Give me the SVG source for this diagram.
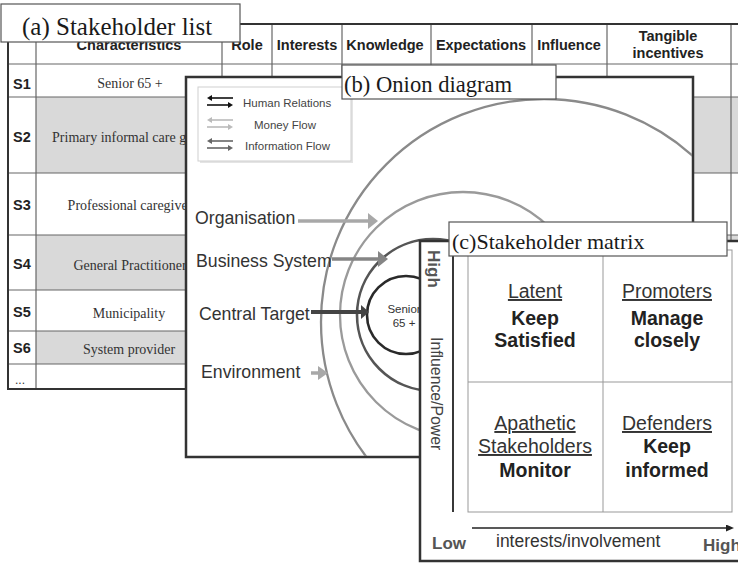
<svg xmlns="http://www.w3.org/2000/svg" width="738" height="563" viewBox="0 0 738 563">
<defs>
<style>
.hdr{font-family:"Liberation Sans",Arial,sans-serif;font-weight:bold;font-size:14.5px;fill:#222;text-anchor:middle}
.sid{font-family:"Liberation Sans",Arial,sans-serif;font-weight:bold;font-size:14.5px;fill:#222}
.cell{font-family:"Liberation Serif","Times New Roman",serif;font-size:14px;fill:#333;text-anchor:middle}
.gl{stroke:#666;stroke-width:1.2;fill:none}
.ol{stroke:#333;stroke-width:2;fill:none}
.shade{fill:#d9d9d9}
.frame{fill:#fff;stroke:#333;stroke-width:2.5}
.tbox{fill:#fff;stroke:#555;stroke-width:1.2}
.ttl{font-family:"Liberation Serif","Times New Roman",serif;fill:#1a1a1a}
.lbl{font-family:"Liberation Sans",Arial,sans-serif;font-size:17.7px;fill:#333}
.leg{font-family:"Liberation Sans",Arial,sans-serif;font-size:11.5px;fill:#444}
.ring{fill:none}
.quad{font-family:"Liberation Sans",Arial,sans-serif;font-size:19.5px;fill:#333;text-anchor:middle}
.u{text-decoration:underline}
.b{font-weight:bold;fill:#222}
.ax{font-family:"Liberation Sans",Arial,sans-serif}
.qg{stroke:#999;stroke-width:1;fill:none}
</style>
<clipPath id="onionClip"><rect x="187" y="78" width="505" height="378"/></clipPath>
<marker id="ahOrg" markerUnits="userSpaceOnUse" viewBox="0 0 10 16" markerWidth="10" markerHeight="16" refX="0" refY="8" orient="auto"><path d="M0,0L10,8L0,16z" fill="#a8a8a8"/></marker>
<marker id="ahBus" markerUnits="userSpaceOnUse" viewBox="0 0 10 16" markerWidth="10" markerHeight="16" refX="0" refY="8" orient="auto"><path d="M0,0L10,8L0,16z" fill="#858585"/></marker>
<marker id="ahCen" markerUnits="userSpaceOnUse" viewBox="0 0 8 14" markerWidth="8" markerHeight="14" refX="0" refY="7" orient="auto"><path d="M0,0L8,7L0,14z" fill="#444"/></marker>
<marker id="ahEnv" markerUnits="userSpaceOnUse" viewBox="0 0 10 14" markerWidth="10" markerHeight="14" refX="0" refY="7" orient="auto"><path d="M0,0L10,7L0,14z" fill="#a8a8a8"/></marker>
<marker id="lgB" markerUnits="userSpaceOnUse" viewBox="0 0 5 6" markerWidth="5" markerHeight="6" refX="0" refY="3" orient="auto"><path d="M0,0L5,3L0,6z" fill="#111"/></marker>
<marker id="lgL" markerUnits="userSpaceOnUse" viewBox="0 0 5 6" markerWidth="5" markerHeight="6" refX="0" refY="3" orient="auto"><path d="M0,0L5,3L0,6z" fill="#bbb"/></marker>
<marker id="lgD" markerUnits="userSpaceOnUse" viewBox="0 0 5 6" markerWidth="5" markerHeight="6" refX="0" refY="3" orient="auto"><path d="M0,0L5,3L0,6z" fill="#666"/></marker>
<marker id="axA" markerUnits="userSpaceOnUse" viewBox="0 0 8 7" markerWidth="8" markerHeight="7" refX="0" refY="3.5" orient="auto"><path d="M0,0L8,3.5L0,7z" fill="#222"/></marker>
</defs>
<rect width="738" height="563" fill="#fff"/>

<!-- (a) Stakeholder list -->
<g id="stakeholder-list">
<rect class="shade" x="36" y="97" width="702" height="76"/>
<rect class="shade" x="36" y="235" width="702" height="55"/>
<rect class="shade" x="36" y="331" width="702" height="33"/>
<g class="gl">
<line x1="8" y1="64" x2="738" y2="64"/>
<line x1="8" y1="97" x2="738" y2="97"/>
<line x1="8" y1="173" x2="738" y2="173"/>
<line x1="8" y1="235" x2="738" y2="235"/>
<line x1="8" y1="290" x2="738" y2="290"/>
<line x1="8" y1="331" x2="738" y2="331"/>
<line x1="8" y1="364" x2="738" y2="364"/>
<line x1="36" y1="24" x2="36" y2="389"/>
<line x1="222" y1="24" x2="222" y2="389"/>
<line x1="272" y1="24" x2="272" y2="389"/>
<line x1="342" y1="24" x2="342" y2="389"/>
<line x1="431" y1="24" x2="431" y2="389"/>
<line x1="532" y1="24" x2="532" y2="389"/>
<line x1="607" y1="24" x2="607" y2="389"/>
<line x1="731" y1="24" x2="731" y2="389"/>
</g>
<g class="ol">
<line x1="7" y1="24" x2="738" y2="24"/>
<line x1="8" y1="24" x2="8" y2="389"/>
<line x1="7" y1="389" x2="738" y2="389"/>
</g>
<text class="hdr" x="129" y="50">Characteristics</text>
<text class="hdr" x="247" y="50">Role</text>
<text class="hdr" x="307" y="50">Interests</text>
<text class="hdr" x="385" y="50">Knowledge</text>
<text class="hdr" x="481" y="50">Expectations</text>
<text class="hdr" x="569" y="50">Influence</text>
<text class="hdr" x="668" y="41">Tangible</text>
<text class="hdr" x="668" y="58">incentives</text>
<text class="sid" x="13" y="89">S1</text>
<text class="sid" x="13" y="142">S2</text>
<text class="sid" x="13" y="210">S3</text>
<text class="sid" x="13" y="269">S4</text>
<text class="sid" x="13" y="317">S5</text>
<text class="sid" x="13" y="353">S6</text>
<text x="15" y="384" style="font-family:'Liberation Sans',Arial,sans-serif;font-size:12px;fill:#333">...</text>
<text class="cell" x="130" y="88">Senior 65 +</text>
<text class="cell" x="130" y="142">Primary informal care giver</text>
<text class="cell" x="130" y="210">Professional caregiver</text>
<text class="cell" x="130" y="270">General Practitioner</text>
<text class="cell" x="129" y="318">Municipality</text>
<text class="cell" x="129" y="354">System provider</text>
</g>
<g id="title-a">
<rect class="tbox" x="1" y="4" width="239" height="38"/>
<text class="ttl" x="22" y="35" style="font-size:25px">(a) Stakeholder list</text>
</g>

<!-- (b) Onion diagram -->
<g id="onion-panel">
<rect class="frame" x="186" y="77" width="507" height="380"/>
<g clip-path="url(#onionClip)">
<circle class="ring" cx="544" cy="322" r="223" stroke="#8a8a8a" stroke-width="2.3"/>
<circle class="ring" cx="463" cy="315" r="123" stroke="#9a9a9a" stroke-width="2.3"/>
<circle class="ring" cx="433" cy="315" r="76" stroke="#555" stroke-width="2.6"/>
<circle class="ring" cx="406" cy="315" r="39" stroke="#2a2a2a" stroke-width="2.6"/>
</g>
</g>
<g id="legend">
<rect x="200" y="89" width="153" height="74" fill="#e4e4e4"/>
<rect x="198" y="87" width="153" height="74" fill="#fff" stroke="#cfcfcf" stroke-width="1"/>
<line x1="233" y1="98" x2="212" y2="98" stroke="#111" stroke-width="1.6" marker-end="url(#lgB)"/>
<line x1="207" y1="105" x2="228" y2="105" stroke="#111" stroke-width="1.6" marker-end="url(#lgB)"/>
<line x1="233" y1="120" x2="212" y2="120" stroke="#bbb" stroke-width="1.6" marker-end="url(#lgL)"/>
<line x1="207" y1="127" x2="228" y2="127" stroke="#bbb" stroke-width="1.6" marker-end="url(#lgL)"/>
<line x1="233" y1="141" x2="212" y2="141" stroke="#666" stroke-width="1.6" marker-end="url(#lgD)"/>
<line x1="207" y1="148" x2="228" y2="148" stroke="#666" stroke-width="1.6" marker-end="url(#lgD)"/>
<text class="leg" x="243" y="107">Human Relations</text>
<text class="leg" x="254" y="129">Money Flow</text>
<text class="leg" x="245" y="150">Information Flow</text>
</g>
<g id="onion-connectors">
<line x1="298" y1="221" x2="368" y2="221" stroke="#a8a8a8" stroke-width="3.5" marker-end="url(#ahOrg)"/>
<line x1="332" y1="259" x2="378" y2="259" stroke="#858585" stroke-width="3.5" marker-end="url(#ahBus)"/>
<line x1="311" y1="312" x2="361" y2="312" stroke="#444" stroke-width="4" marker-end="url(#ahCen)"/>
<line x1="311" y1="373" x2="318" y2="373" stroke="#a8a8a8" stroke-width="3.5" marker-end="url(#ahEnv)"/>
</g>
<g id="layer-organisation"><text class="lbl" x="195" y="224">Organisation</text></g>
<g id="layer-business"><text class="lbl" x="196" y="267">Business System</text></g>
<g id="layer-central"><text class="lbl" x="199" y="320">Central Target</text></g>
<g id="layer-environment"><text class="lbl" x="201" y="378">Environment</text></g>
<g id="core-senior">
<text x="404" y="313" style="font-family:'Liberation Sans',Arial,sans-serif;font-size:11.5px;fill:#333;text-anchor:middle">Senior</text>
<text x="404" y="327" style="font-family:'Liberation Sans',Arial,sans-serif;font-size:11.5px;fill:#333;text-anchor:middle">65 +</text>
</g>
<g id="title-b">
<rect class="tbox" x="342" y="65" width="214" height="34"/>
<text class="ttl" x="344" y="92" style="font-size:22.6px">(b) Onion diagram</text>
</g>

<!-- (c) Stakeholder matrix -->
<g id="matrix-panel">
<rect class="frame" x="420" y="241" width="340" height="320"/>
<rect class="qg" x="468" y="250" width="264" height="262"/>
<line class="qg" x1="603" y1="250" x2="603" y2="512"/>
<line class="qg" x1="468" y1="382" x2="732" y2="382"/>
<line x1="453" y1="256" x2="453" y2="512" stroke="#222" stroke-width="1.8"/>
<line x1="472" y1="528" x2="726" y2="528" stroke="#222" stroke-width="1.6" marker-end="url(#axA)"/>
<text class="ax" transform="translate(428,250) rotate(90)" style="font-size:17px;font-weight:bold;fill:#555">High</text>
<text class="ax" transform="translate(431,337) rotate(90)" style="font-size:15.8px;fill:#444">Influence/Power</text>
<text class="ax" x="432" y="549" style="font-size:17px;font-weight:bold;fill:#555">Low</text>
<text class="ax" x="496" y="547" style="font-size:17.5px;fill:#333">interests/involvement</text>
<text class="ax" x="703" y="551" style="font-size:17px;font-weight:bold;fill:#555">High</text>
</g>
<g id="quadrant-latent">
<text class="quad u" x="535" y="298">Latent</text>
<text class="quad b" x="535" y="325">Keep</text>
<text class="quad b" x="535" y="347">Satisfied</text>
</g>
<g id="quadrant-promoters">
<text class="quad u" x="667" y="298">Promoters</text>
<text class="quad b" x="667" y="325">Manage</text>
<text class="quad b" x="667" y="347">closely</text>
</g>
<g id="quadrant-apathetic">
<text class="quad u" x="535" y="430">Apathetic</text>
<text class="quad u" x="535" y="453">Stakeholders</text>
<text class="quad b" x="535" y="477">Monitor</text>
</g>
<g id="quadrant-defenders">
<text class="quad u" x="667" y="430">Defenders</text>
<text class="quad b" x="667" y="453">Keep</text>
<text class="quad b" x="667" y="477">informed</text>
</g>
<g id="title-c">
<rect class="tbox" x="449" y="222" width="278" height="34"/>
<text class="ttl" x="452" y="249" style="font-size:22px">(c)Stakeholder matrix</text>
</g>
</svg>
